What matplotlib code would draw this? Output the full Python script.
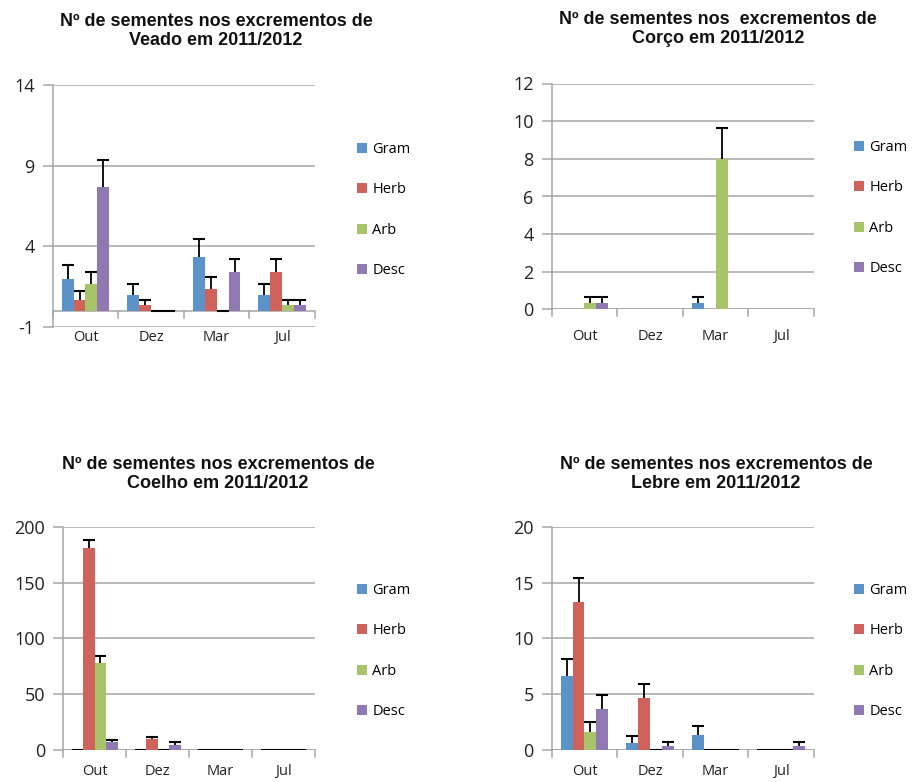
import numpy as np
import matplotlib
matplotlib.use("Agg")
import matplotlib.pyplot as plt
from matplotlib.patches import Patch

nan = np.nan
months = ["Out", "Dez", "Mar", "Jul"]
series = ["Gram", "Herb", "Arb", "Desc"]
colors = ["#5b93c9", "#cf635b", "#a8c46a", "#9079b3"]

# Veado
veado_vals = [[2.0, 1.0, 3.35, 1.0],
              [0.67, 0.35, 1.33, 2.4],
              [1.67, 0.0, 0.0, 0.35],
              [7.7, 0.0, 2.4, 0.35]]
veado_err = [[0.87, 0.67, 1.1, 0.67],
             [0.55, 0.33, 0.77, 0.8],
             [0.77, 0.0, 0.0, 0.33],
             [1.65, 0.0, 0.8, 0.33]]
# Corco
corco_vals = [[nan, nan, 0.33, nan],
              [nan, nan, nan, nan],
              [0.33, nan, 8.0, nan],
              [0.33, nan, nan, nan]]
corco_err = [[nan, nan, 0.34, nan],
             [nan, nan, nan, nan],
             [0.34, nan, 1.62, nan],
             [0.34, nan, nan, nan]]
# Coelho
coelho_vals = [[0.0, 0.0, 0.0, 0.0],
               [180.5, 9.6, 0.0, 0.0],
               [78.0, 0.0, 0.0, 0.0],
               [7.0, 4.8, 0.0, 0.0]]
coelho_err = [[0.0, 0.0, 0.0, 0.0],
              [8.0, 2.1, 0.0, 0.0],
              [5.8, 0.0, 0.0, 0.0],
              [2.3, 2.1, 0.0, 0.0]]
# Lebre
lebre_vals = [[6.65, 0.65, 1.37, 0.0],
              [13.3, 4.67, 0.0, 0.0],
              [1.65, 0.0, 0.0, 0.0],
              [3.65, 0.36, 0.0, 0.36]]
lebre_err = [[1.5, 0.57, 0.74, 0.0],
             [2.1, 1.28, 0.0, 0.0],
             [0.82, 0.0, 0.0, 0.0],
             [1.25, 0.35, 0.0, 0.35]]

titles = ["Nº de sementes nos excrementos de\nVeado em 2011/2012",
          "Nº de sementes nos  excrementos de\nCorço em 2011/2012",
          "Nº de sementes nos excrementos de\nCoelho em 2011/2012",
          "Nº de sementes nos excrementos de\nLebre em 2011/2012"]
ylims = [(-1, 14), (0, 12), (0, 200), (0, 20)]
ysteps = [5, 2, 50, 5]

W, H = 915, 782
# pixel boxes: left, right, top, bottom
boxes = [(52.7, 315, 85.5, 327), (551.7, 814, 83.5, 309.5),
         (63.3, 315, 526.7, 750), (551.7, 814, 526.7, 750)]
title_pos = [(216, 31), (718, 29), (218, 474), (716, 474)]
legend_pos = [(357, 210), (854, 208), (357, 651), (854, 651)]
xlabel_pad = [2, 14, 10, 10]

datasets = [(veado_vals, veado_err), (corco_vals, corco_err),
            (coelho_vals, coelho_err), (lebre_vals, lebre_err)]

tickfont = ["Open Sans", "DejaVu Sans"]
titlefont = ["Liberation Sans", "DejaVu Sans"]
grid_c = "#a6a6a6"

fig = plt.figure(figsize=(W / 100, H / 100), dpi=100)
fig.patch.set_facecolor("white")

nb = len(series)
bw = 1.0 / (nb + 1.5)
x = np.arange(len(months))

for k in range(4):
    l, r, t, b = boxes[k]
    ax = fig.add_axes([l / W, 1 - b / H, (r - l) / W, (b - t) / H])
    vals, errs = datasets[k]
    y0, y1 = ylims[k]
    for i in range(nb):
        v = np.array(vals[i], dtype=float)
        e = np.array(errs[i], dtype=float)
        xi = x + (i - (nb - 1) / 2) * bw
        m = ~np.isnan(v)
        ax.bar(xi[m], v[m], width=bw, color=colors[i], zorder=3, linewidth=0)
        ax.vlines(xi[m], v[m], v[m] + e[m], color="black", lw=1.3, zorder=4)
        ax.hlines(v[m] + e[m], xi[m] - bw / 2, xi[m] + bw / 2, color="black", lw=1.5, zorder=4)
    ax.set_xlim(-0.5, len(months) - 0.5)
    ax.set_ylim(y0, y1)
    yt = np.arange(y0, y1 + 0.001, ysteps[k])
    ax.set_yticks(yt)
    ax.set_yticklabels([f"{v:g}" for v in yt], fontfamily=tickfont, fontsize=13, color="#222222")
    ax.yaxis.grid(True, color=grid_c, lw=1.1, zorder=0)
    ax.set_axisbelow(True)
    ax.tick_params(axis="y", length=7, color=grid_c, width=1.1, pad=6)
    ax.set_xticks(x)
    ax.set_xticklabels(months, fontfamily=tickfont, fontsize=10.5, color="#222222")
    ax.tick_params(axis="x", length=0, pad=xlabel_pad[k])
    for s in ["top", "right"]:
        ax.spines[s].set_visible(False)
    ax.spines["bottom"].set_visible(False)
    ax.spines["left"].set_color(grid_c)
    ax.spines["left"].set_linewidth(1.1)
    # category axis at zero with boundary ticks
    ax.axhline(0, color=grid_c, lw=1.1, zorder=2)
    bounds = np.arange(len(months) + 1) - 0.5
    trans = matplotlib.transforms.blended_transform_factory(ax.transData, ax.transAxes)
    zero_ax = (0 - y0) / (y1 - y0)
    for bx in bounds:
        ax.plot([bx, bx], [zero_ax, zero_ax - 7 / (b - t)], transform=trans,
                color=grid_c, lw=1.1, clip_on=False, zorder=2)
    # title
    tx, ty = title_pos[k]
    fig.text(tx / W, 1 - ty / H, titles[k], ha="center", va="center",
             fontfamily=titlefont, fontweight="bold", fontsize=13, linespacing=1.2,
             color="#111111")
    # legend
    handles = [Patch(facecolor=c, edgecolor="none") for c in colors]
    lx, ly = legend_pos[k]
    ax.legend(handles, series, loc="center left", bbox_to_anchor=(lx / W, 1 - ly / H),
              bbox_transform=fig.transFigure, frameon=False, borderpad=0, borderaxespad=0,
              labelspacing=1.75, handlelength=0.7, handleheight=0.7, handletextpad=0.35,
              prop={"family": tickfont, "size": 10.5})

fig.savefig("out.png", dpi=100, facecolor="white")
